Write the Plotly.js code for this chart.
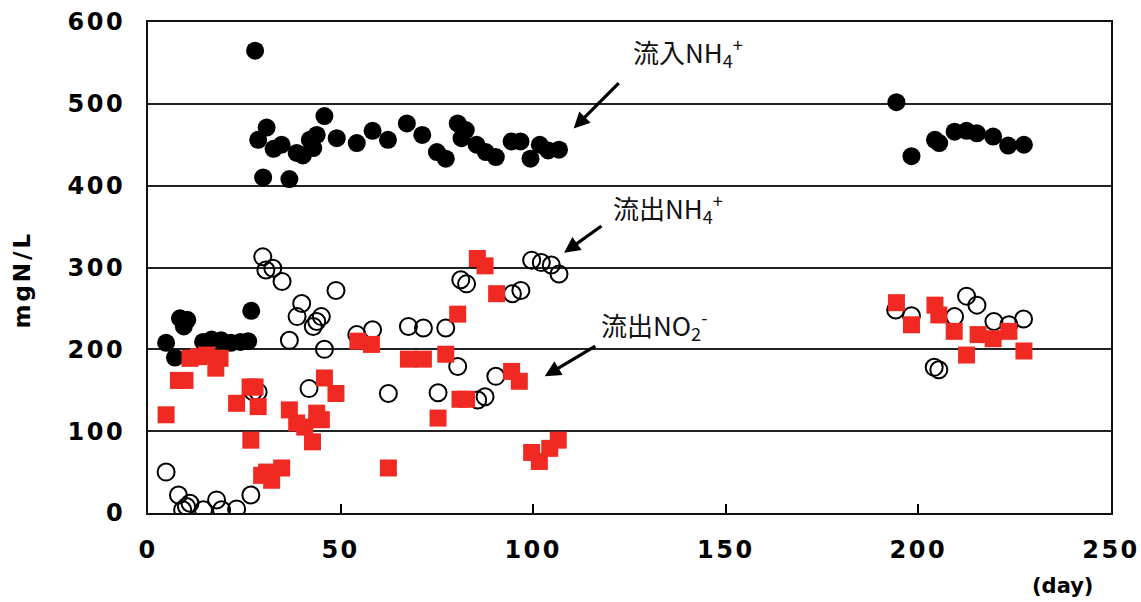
<!DOCTYPE html>
<html>
<head>
<meta charset="utf-8">
<script src="https://cdn.plot.ly/plotly-3.0.1.min.js"></script>
<style>
html,body{margin:0;padding:0;background:#fff;}
#chart{width:1141px;height:602px;}
.xtick text, .ytick text { letter-spacing: 2.5px; }
.wide-title text { letter-spacing: 3px; }
</style>
</head>
<body>
<div id="chart"></div>
<script>
// Influent NH4+ (black filled circles)
const inDays = [4.7, 7.0, 8.3, 9.3, 10.2, 14.3, 16.5, 19.0, 21.5, 24.0, 26.0, 26.8,
  27.8, 28.6, 29.9, 30.8, 32.6, 34.7, 36.7, 38.6, 40.2, 42.0, 42.9, 43.8, 45.8, 49.0,
  54.2, 58.3, 62.3, 67.2, 71.2, 75.0, 77.3, 80.4, 81.4, 82.5, 85.3, 87.7, 90.3, 94.4,
  96.7, 99.3, 101.7, 103.9, 106.7,
  194.3, 198.2, 204.3, 205.4, 209.4, 212.5, 215.2, 219.4, 223.3, 227.4];
const inVals = [208, 190, 238, 228, 236, 209, 212, 211, 208, 209, 210, 247,
  565, 456, 410, 471, 445, 450, 408, 440, 437, 456, 446, 462, 485, 458,
  452, 467, 456, 476, 462, 441, 433, 476, 458, 468, 450, 441, 435, 454,
  454, 433, 450, 443, 444,
  502, 436, 456, 452, 466, 467, 464, 460, 449, 450];

// Effluent NH4+ (open circles)
const outNH4Days = [4.7, 7.9, 9.0, 10.0, 10.9, 14.4, 17.8, 19.1, 23.0, 26.7, 27.3, 28.6,
  29.8, 30.6, 32.4, 34.8, 36.7, 38.7, 39.9, 41.8, 42.9, 43.8, 45.0, 45.8, 48.8,
  54.2, 58.3, 62.4, 67.6, 71.5, 75.3, 77.3, 80.4, 81.2, 82.7, 85.6, 87.5, 90.3,
  94.6, 96.8, 99.6, 102.1, 104.7, 106.7,
  194.1, 198.2, 204.1, 205.3, 209.4, 212.5, 215.2, 219.6, 223.5, 227.3];
const outNH4Vals = [50, 22, 4, 8, 12, 4, 16, 4, 5, 22, 148, 148,
  313, 297, 299, 283, 211, 240, 256, 152, 228, 234, 240, 200, 272,
  218, 224, 146, 228, 226, 147, 226, 179, 285, 280, 138, 142, 167,
  268, 272, 309, 306, 303, 292,
  248, 241, 178, 175, 240, 265, 254, 234, 230, 237];

// Effluent NO2- (red squares)
const outNO2Days = [4.7, 7.9, 9.6, 10.9, 13.1, 15.2, 17.6, 18.7, 23.0, 26.5, 26.7, 27.8,
  28.6, 29.5, 30.8, 32.1, 34.7, 36.7, 38.6, 40.7, 42.7, 43.8, 45.0, 45.8, 48.8,
  54.5, 58.0, 62.4, 67.6, 71.5, 75.3, 77.3, 80.4, 81.0, 82.7, 85.5, 87.5, 90.5,
  94.4, 96.4, 99.6, 101.6, 104.3, 106.5,
  194.3, 198.2, 204.3, 205.3, 209.3, 212.5, 215.5, 219.4, 223.5, 227.4];
const outNO2Vals = [120, 162, 162, 189, 191, 193, 177, 189, 134, 154, 89, 154,
  130, 46, 50, 40, 55, 126, 110, 105, 87, 122, 114, 165, 146,
  210, 206, 55, 188, 188, 116, 194, 243, 139, 139, 311, 302, 268,
  173, 161, 74, 63, 79, 89,
  257, 230, 254, 242, 222, 193, 218, 213, 222, 198];

const xTicks = [0, 50, 100, 150, 200, 250];
const yTicks = [0, 100, 200, 300, 400, 500, 600];

const tickFont = {family: 'DejaVu Sans, Liberation Sans, sans-serif', size: 24, color: '#000', weight: 'bold'};
const labelFont = {family: 'Noto Sans CJK JP, Noto Sans, sans-serif', size: 26, color: '#111'};
const arrowStyle = {text: '', showarrow: true, axref: 'x', ayref: 'y',
  arrowhead: 2, arrowsize: 1, arrowwidth: 3.2, arrowcolor: '#000', standoff: 0};

const traces = [
  {x: inDays, y: inVals, type: 'scatter', mode: 'markers', name: '流入NH4+',
   marker: {symbol: 'circle', size: 18, color: '#000'}},
  {x: outNH4Days, y: outNH4Vals, type: 'scatter', mode: 'markers', name: '流出NH4+',
   marker: {symbol: 'circle-open', size: 17, color: '#000', line: {width: 2, color: '#000'}}},
  {x: outNO2Days, y: outNO2Vals, type: 'scatter', mode: 'markers', name: '流出NO2-',
   marker: {symbol: 'square', size: 17, color: '#f02a22'}}
];

const layout = {
  width: 1141, height: 602,
  margin: {l: 148, r: 30, t: 22, b: 89},
  paper_bgcolor: '#fff', plot_bgcolor: '#fff',
  showlegend: false,
  xaxis: {
    range: [0, 250], tickvals: xTicks, ticktext: xTicks.map(String),
    ticks: 'inside', ticklen: 9, tickwidth: 2, tickcolor: '#000',
    showgrid: false, zeroline: false,
    showline: true, linecolor: '#111', linewidth: 2, mirror: true,
    tickfont: tickFont, ticklabelstandoff: 14,
    fixedrange: true
  },
  yaxis: {
    range: [0, 600], tickvals: yTicks, ticktext: yTicks.map(String),
    ticks: '',
    showgrid: true, gridcolor: '#222', gridwidth: 2, zeroline: false,
    showline: true, linecolor: '#111', linewidth: 2, mirror: true,
    tickfont: tickFont, ticklabelstandoff: 16,
    fixedrange: true
  },
  annotations: [
    {xref: 'paper', yref: 'paper', x: 0.950, y: -0.149, text: '(day)', showarrow: false,
     xanchor: 'center', yanchor: 'middle',
     font: {family: 'DejaVu Sans, sans-serif', size: 21, weight: 'bold', color: '#000'}},
    {xref: 'paper', yref: 'paper', x: -0.1308, y: 0.4745, text: 'mgN/L', showarrow: false,
     textangle: -90, xanchor: 'center', yanchor: 'middle',
     font: {family: 'DejaVu Sans, sans-serif', size: 23, weight: 'bold', color: '#000'}},
    {x: 140.2, y: 563, text: '流入NH<sub>4</sub><sup>+</sup>', showarrow: false, font: labelFont, xanchor: 'center', yanchor: 'middle'},
    {x: 134.9, y: 373, text: '流出NH<sub>4</sub><sup>+</sup>', showarrow: false, font: labelFont, xanchor: 'center', yanchor: 'middle'},
    {x: 131.6, y: 230, text: '流出NO<sub>2</sub><sup>-</sup>', showarrow: false, font: labelFont, xanchor: 'center', yanchor: 'middle'},
    Object.assign({x: 110.5, y: 470, ax: 122.6, ay: 527}, arrowStyle),
    Object.assign({x: 108.0, y: 318, ax: 118.1, ay: 352}, arrowStyle),
    Object.assign({x: 103.0, y: 167, ax: 116.5, ay: 205}, arrowStyle)
  ]
};

Plotly.newPlot('chart', traces, layout, {displayModeBar: false, staticPlot: true}).then(function(gd){
  const anns = gd.querySelectorAll('.annotation');
  if (anns[1]) anns[1].classList.add('wide-title');
});
</script>
</body>
</html>
